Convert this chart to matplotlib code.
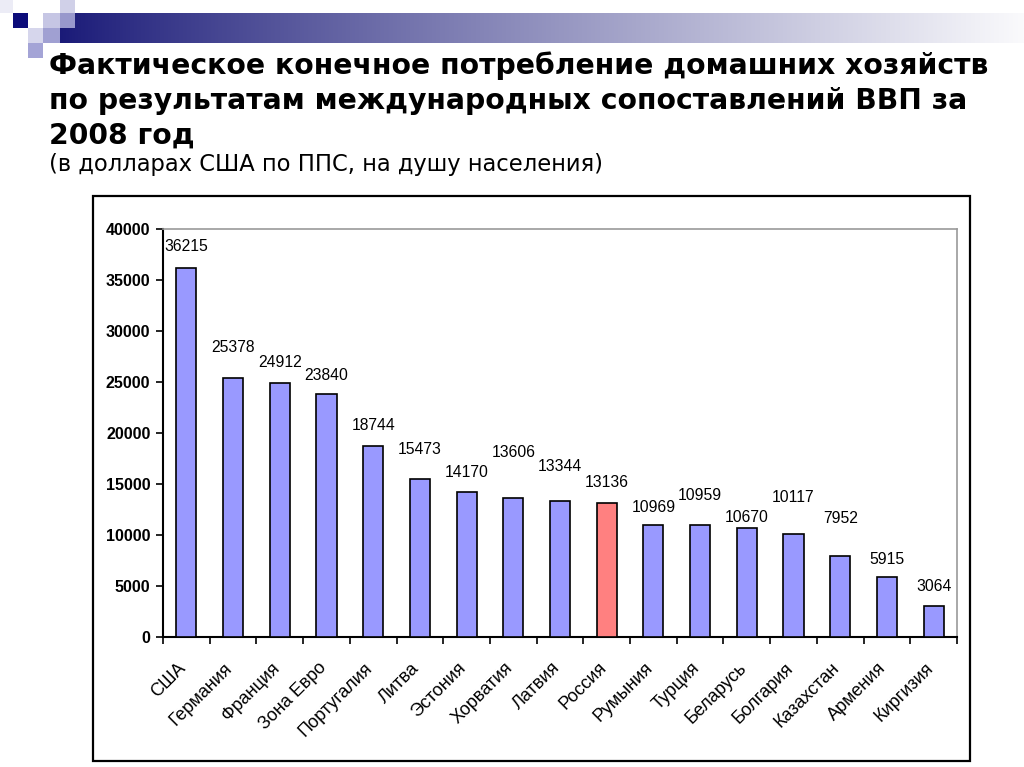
import numpy as np
import matplotlib
matplotlib.use('Agg')
from matplotlib import pyplot as plt
from matplotlib.patches import Rectangle
from matplotlib.transforms import ScaledTranslation

countries = ['США', 'Германия', 'Франция', 'Зона Евро', 'Португалия', 'Литва',
             'Эстония', 'Хорватия', 'Латвия', 'Россия', 'Румыния', 'Турция',
             'Беларусь', 'Болгария', 'Казахстан', 'Армения', 'Киргизия']
values = [36215, 25378, 24912, 23840, 18744, 15473, 14170, 13606, 13344,
          13136, 10969, 10959, 10670, 10117, 7952, 5915, 3064]
highlight = 'Россия'

# label heights above the bar top (px), as placed by hand in the original
label_gap_px = [21, 31, 20, 18, 20, 30, 20, 46, 34, 21, 18, 30, 11, 36, 37, 17, 19]

W, H = 1024, 767
BAR = '#9999ff'
RED = '#ff8080'


def fx(px):
    return px / W


def fy(py):
    return 1 - py / H


fig = plt.figure(figsize=(W / 100, H / 100), dpi=100)

# header band with gradient
band = fig.add_axes([fx(60), fy(43), fx(1024 - 60), (43 - 13) / H])
grad = np.linspace(0, 1, 512) ** 0.9
c0 = np.array([26, 26, 120]) / 255
c1 = np.array([250, 250, 252]) / 255
img = c0[None, :] * (1 - grad[:, None]) + c1[None, :] * grad[:, None]
band.imshow(img[None, :, :], aspect='auto', extent=[0, 1, 0, 1])
band.axis('off')

squares = [
    (0, 0, 13, 13, '#ececf6'),
    (13, 13, 15, 15, '#0c0c7a'),
    (28, 28, 15, 15, '#d6d6ec'),
    (43, 13, 17, 15, '#c6c6e4'),
    (43, 28, 17, 15, '#a0a0d2'),
    (60, 0, 15, 13, '#d0d0e8'),
    (60, 13, 15, 15, '#9898cc'),
    (28, 43, 15, 15, '#a4a4d6'),
]
for x, y, w, h, c in squares:
    fig.add_artist(Rectangle((fx(x), fy(y + h)), w / W, h / H,
                             transform=fig.transFigure, color=c, lw=0))

# title
title_lines = ['Фактическое конечное потребление домашних хозяйств',
               'по результатам международных сопоставлений ВВП за',
               '2008 год']
for i, line in enumerate(title_lines):
    fig.text(fx(49), fy(66 + 35 * i), line, fontsize=20.3, fontweight='bold',
             family='DejaVu Sans', va='center', ha='left')
fig.text(fx(49), fy(165), '(в долларах США по ППС, на душу населения)',
         fontsize=16.3, family='DejaVu Sans', va='center', ha='left')

# outer chart frame
fig.add_artist(Rectangle((fx(93), fy(761)), (970 - 93) / W, (761 - 196) / H,
                         transform=fig.transFigure, fill=False, ec='black', lw=1.6))

ax = fig.add_axes([fx(163), fy(637), (957 - 163) / W, (637 - 229) / H])
x = np.arange(len(countries))
colors = [RED if c == highlight else BAR for c in countries]
ax.bar(x, values, width=0.43, color=colors, edgecolor='black', linewidth=1.2,
       zorder=3)

for xi, v, gap in zip(x, values, label_gap_px):
    ax.annotate(str(v), (xi, v), xytext=(0, gap * 0.72), textcoords='offset points',
                ha='center', va='center', fontsize=11.3, family='Liberation Sans')

ax.set_xlim(-0.5, len(countries) - 0.5)
ax.set_ylim(0, 40000)
ax.set_yticks(np.arange(0, 40001, 5000))
ax.set_yticklabels([str(t) for t in range(0, 40001, 5000)],
                   fontsize=11.5, fontweight='bold', family='Liberation Sans')

ax.set_xticks(np.arange(-0.5, len(countries), 1))
ax.set_xticklabels([])
ax.set_xticks(x, minor=True)
ax.set_xticklabels(countries, minor=True, rotation=45, ha='right',
                   rotation_mode='anchor', fontsize=13, family='Liberation Sans')
ax.tick_params(axis='x', which='minor', length=0, pad=14)
ax.tick_params(axis='x', which='major', length=5, width=1.2, direction='out')
ax.tick_params(axis='y', length=5, width=1.2, direction='out', pad=4)

shift = ScaledTranslation(-9 / 100, -3 / 100, fig.dpi_scale_trans)
for lab in ax.get_xticklabels(minor=True):
    lab.set_transform(lab.get_transform() + shift)

for s in ['left', 'bottom']:
    ax.spines[s].set_color('black')
    ax.spines[s].set_linewidth(1.5)
for s in ['top', 'right']:
    ax.spines[s].set_color('#999999')
    ax.spines[s].set_linewidth(1.2)

fig.savefig('out.png', dpi=100)
